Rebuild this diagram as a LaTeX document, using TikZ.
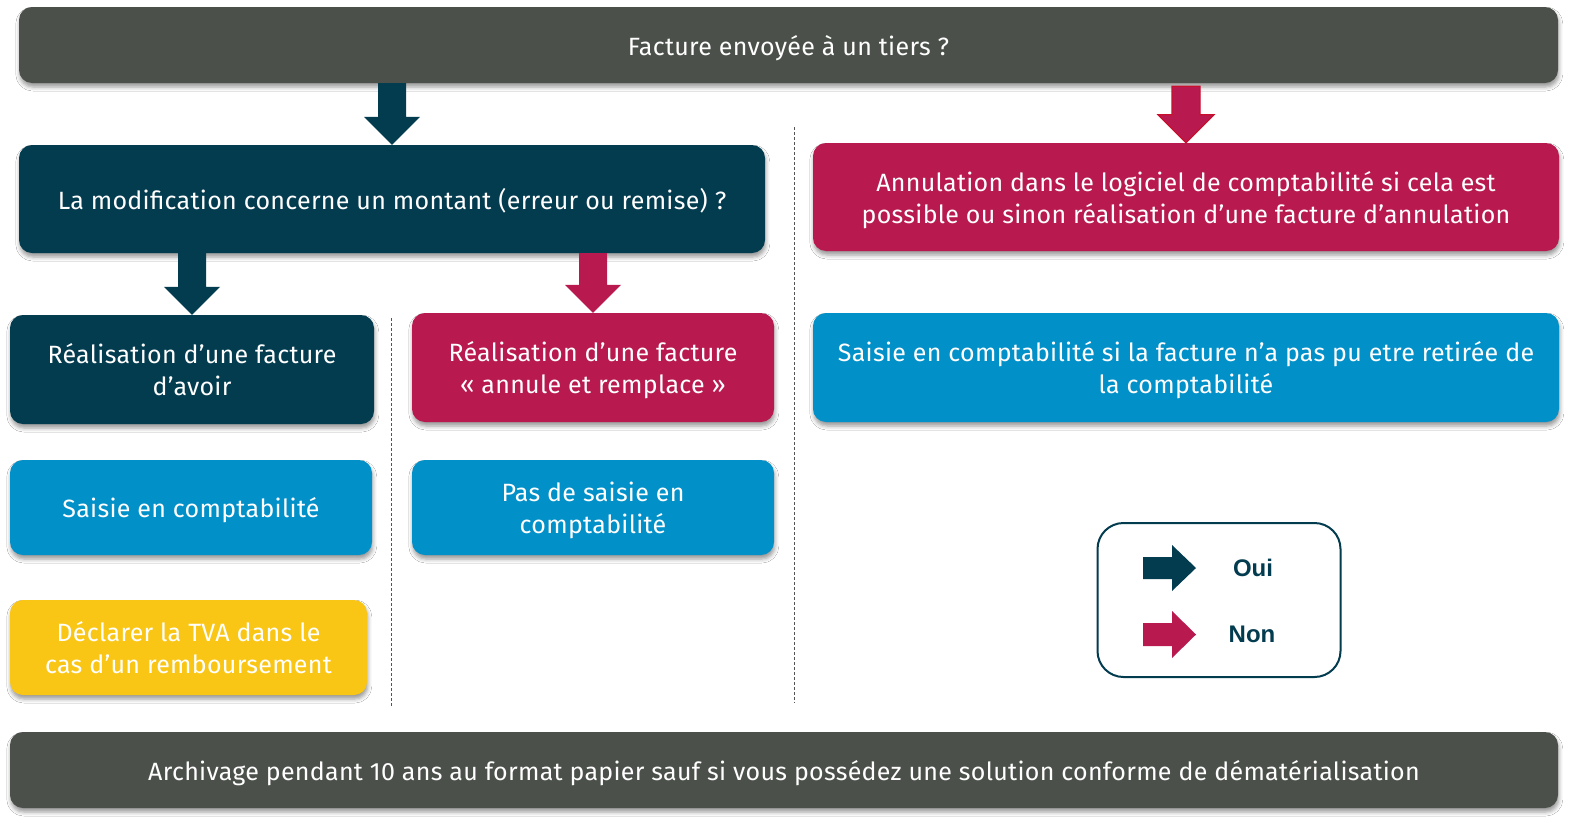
\documentclass[tikz,border=0pt]{standalone}
\usepackage{fontspec}
\setmainfont{Fira Sans}[LetterSpace=1.2]
\newfontfamily\legfont{Liberation Sans}
\usetikzlibrary{shadows.blur,calc}
\definecolor{cgray}{HTML}{4B514A}
\definecolor{cteal}{HTML}{033B4F}
\definecolor{cred}{HTML}{B81A4F}
\definecolor{cblue}{HTML}{0290C9}
\definecolor{cyellow}{HTML}{FAC615}
\definecolor{credline}{HTML}{C8102E}
\definecolor{cdash}{HTML}{555555}
\newcommand\blockarr[4][]{%
  \fill[#2,#1] ([xshift=-14pt]#3) -- ([xshift=14pt]#3) -- ([xshift=14pt,yshift=28pt]#4)
    -- ([xshift=28pt,yshift=28pt]#4) -- (#4) -- ([xshift=-28pt,yshift=28pt]#4)
    -- ([xshift=-14pt,yshift=28pt]#4) -- cycle;}
\newcommand\tx[1]{\rule{0pt}{27pt}#1\rule[-7pt]{0pt}{7pt}}
\begin{document}
\begin{tikzpicture}[x=1pt,y=-1pt,
  boxstyle/.style={rectangle, rounded corners=13pt, inner sep=0pt, align=center,
    text=white, font=\fontsize{25}{32}\selectfont,
    blur shadow={shadow xshift=0.8pt, shadow yshift=-4pt, shadow blur radius=4pt, shadow opacity=40}},
  sepline/.style={draw=cdash, line width=0.9pt, dash pattern=on 3pt off 2pt},
  legtext/.style={font=\legfont\bfseries\fontsize{24}{28}\selectfont, text=cteal, inner sep=0pt}
]
\useasboundingbox (0,0) rectangle (1570,822);
\fill[white] (0,0) rectangle (1570,822);

% boxes
\node[boxstyle, fill=cgray, minimum width=1539pt, minimum height=76pt] (top) at (788.5,45) {\tx{Facture envoyée à un tiers ?}};
\node[boxstyle, fill=cteal, minimum width=746pt, minimum height=108pt] (q1) at (392,199) {\tx{La modification concerne un montant (erreur ou remise) ?}};
\node[boxstyle, fill=cred, minimum width=746pt, minimum height=108pt] (annul) at (1186,197) {\tx{Annulation dans le logiciel de comptabilité si cela est\\possible ou sinon réalisation d’une facture d’annulation}};
\node[boxstyle, fill=cblue, minimum width=746pt, minimum height=109pt] (saisieR) at (1186,367.5) {\tx{Saisie en comptabilité si la facture n’a pas pu etre retirée de\\la comptabilité}};
\node[boxstyle, fill=cteal, minimum width=364pt, minimum height=109pt] (avoir) at (192,369.5) {\tx{Réalisation d’une facture\\d’avoir}};
\node[boxstyle, fill=cred, minimum width=362pt, minimum height=109pt] (remplace) at (593,367.5) {\tx{Réalisation d’une facture\\« annule et remplace »}};
\node[boxstyle, fill=cblue, minimum width=362pt, minimum height=95pt] (saisieL) at (191,507.5) {\tx{Saisie en comptabilité}};
\node[boxstyle, fill=cblue, minimum width=362pt, minimum height=95pt] (pas) at (593,507.5) {\tx{Pas de saisie en\\comptabilité}};
\node[boxstyle, fill=cyellow, minimum width=357pt, minimum height=95pt] (tva) at (188.5,647.5) {\tx{Déclarer la TVA dans le\\cas d’un remboursement}};
\node[boxstyle, fill=cgray, minimum width=1548pt, minimum height=76pt] (bottom) at (784,770) {\tx{Archivage pendant 10 ans au format papier sauf si vous possédez une solution conforme de dématérialisation}};

% separators
\coordinate (s1a) at (391,318); \coordinate (s1b) at (391,707);
\coordinate (s2a) at (794,127); \coordinate (s2b) at (794,703);
\draw[sepline] (s1a) -- (s1b);
\draw[sepline] (s2a) -- (s2b);

% block arrows
\coordinate (a1s) at (top.south -| q1.north);
\coordinate (a2s) at ($(top.south -| annul.north)+(0,3)$);
\coordinate (a3s) at (q1.south -| avoir.north);
\coordinate (a4s) at (q1.south -| remplace.north);
\blockarr{cteal}{a1s}{q1.north}
\blockarr[draw=credline, line width=1.2pt, line join=miter]{cred}{a2s}{annul.north}
\blockarr{cteal}{a3s}{avoir.north}
\blockarr{cred}{a4s}{remplace.north}

% legend
\node[draw=cteal, line width=2pt, rounded corners=26pt, minimum width=243pt, minimum height=154pt, inner sep=0pt] (legend) at (1219,600) {};
\node[legtext, anchor=center] (oui) at (1253,568) {Oui};
\node[legtext, anchor=center] (non) at (1252,634) {Non};
\fill[cteal] (1143,557) -- (1172,557) -- (1172,545) -- (1196,568) -- (1172,591) -- (1172,579) -- (1143,579) -- cycle;
\fill[cred] (1143,623) -- (1172,623) -- (1172,611) -- (1196,634.5) -- (1172,658) -- (1172,646) -- (1143,646) -- cycle;
\end{tikzpicture}
\end{document}
